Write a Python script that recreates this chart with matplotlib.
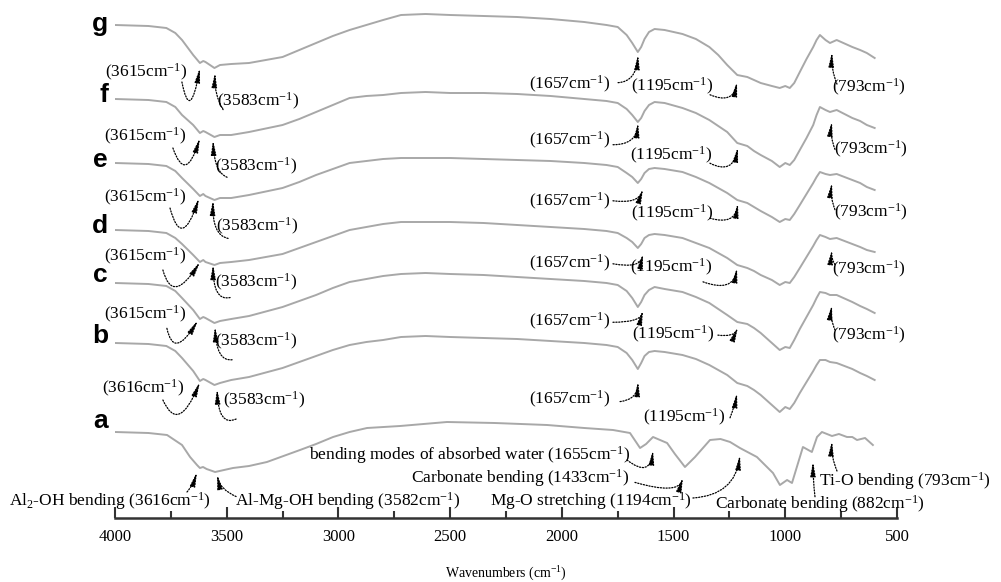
import numpy as np
import matplotlib.pyplot as plt
from matplotlib.ticker import MultipleLocator

plt.rcParams['font.family'] = 'Liberation Serif'
plt.rcParams['mathtext.fontset'] = 'custom'
plt.rcParams['mathtext.rm'] = 'Liberation Serif'
plt.rcParams['mathtext.it'] = 'Liberation Serif:italic'

# wavenumber grid (cm-1) shared by spectra b-g
wn = [4000, 3850, 3770, 3730, 3700, 3650, 3620, 3605, 3595, 3555,
      3530, 3480, 3400, 3250, 3175, 3100, 3025, 2950, 2875, 2800,
      2720, 2610, 2500, 2350, 2200, 2050, 1900, 1800, 1750, 1710,
      1685, 1660, 1645, 1630, 1610, 1585, 1540, 1460, 1400, 1340,
      1300, 1260, 1215, 1170, 1140, 1110, 1060, 1025, 1000, 980,
      960, 935, 905, 875, 860, 845, 820, 800, 770, 700,
      665, 635, 600]

# transmittance (a.u.) relative to the 4000 cm-1 value
g_vals = [0, -1, -3, -8, -15, -30, -38, -36, -37, -43,
          -40, -39, -38, -32, -25, -18, -11, -5, 0, 5,
          10, 11, 10, 9, 8, 6, 3, 0, -2, -10,
          -18, -27, -22, -14, -7, -4, -5, -9, -14, -22,
          -30, -40, -50, -52, -55, -58, -61, -63, -61, -63,
          -58, -47, -34, -22, -15, -10, -15, -18, -15, -22,
          -25, -28, -33]
f_vals = [0, -1, -3, -8, -16, -26, -34, -32, -33, -38,
          -36, -36, -33, -26, -20, -13, -6, 1, 3, 4,
          6, 7, 6, 6, 5, 3, 0, -2, -4, -10,
          -16, -23, -19, -12, -6, -3, -4, -9, -14, -21,
          -27, -33, -44, -47, -52, -56, -62, -68, -64, -66,
          -61, -51, -39, -26, -16, -8, -11, -13, -11, -19,
          -22, -26, -29]
e_vals = [0, -1, -3, -8, -15, -26, -33, -31, -33, -37,
          -35, -35, -32, -25, -19, -12, -6, 0, 2, 4,
          5, 5, 5, 4, 3, 2, 0, -2, -4, -10,
          -14, -20, -16, -10, -6, -5, -6, -9, -14, -20,
          -25, -30, -37, -40, -44, -48, -54, -59, -56, -57,
          -51, -42, -31, -20, -14, -9, -11, -12, -11, -17,
          -20, -24, -27]
d_vals = [0, -1, -3, -8, -14, -25, -32, -30, -32, -35,
          -33, -32, -30, -24, -18, -12, -6, 0, 3, 6,
          8, 8, 8, 7, 5, 3, 1, -1, -3, -8,
          -12, -18, -14, -8, -5, -4, -5, -8, -13, -18,
          -23, -28, -35, -38, -41, -45, -50, -55, -52, -53,
          -47, -38, -27, -16, -10, -5, -7, -9, -8, -14,
          -17, -20, -22]
c_vals = [0, -1, -3, -8, -15, -27, -36, -34, -35, -40,
          -38, -36, -33, -24, -18, -12, -5, 1, 4, 7,
          9, 10, 9, 8, 6, 4, 2, 0, -2, -8,
          -15, -24, -19, -12, -7, -4, -6, -9, -14, -20,
          -26, -32, -39, -41, -45, -50, -60, -67, -64, -65,
          -57, -46, -34, -22, -15, -9, -10, -12, -12, -19,
          -23, -26, -30]
b_vals = [0, -1, -3, -8, -15, -28, -38, -36, -37, -42,
          -40, -37, -34, -25, -19, -13, -7, -2, 1, 3,
          6, 7, 6, 5, 4, 2, 0, -2, -4, -10,
          -17, -26, -20, -13, -9, -8, -9, -12, -16, -22,
          -27, -32, -40, -43, -47, -52, -62, -69, -64, -66,
          -60, -50, -39, -28, -22, -17, -17, -19, -20, -26,
          -30, -33, -37]

# spectrum a has its own grid
wn_a = [4000, 3850, 3767, 3700, 3664, 3633, 3620, 3606, 3590, 3552,
        3472, 3400, 3320, 3172, 3100, 3024, 2950, 2872, 2724, 2514,
        2300, 2066, 1900, 1771, 1695, 1668, 1650, 1623, 1592, 1529,
        1494, 1449, 1404, 1337, 1290, 1247, 1203, 1127, 1055, 1024,
        992, 970, 921, 881, 858, 836, 791, 760, 724, 700,
        679, 643, 608]
a_vals = [0, -1, -3, -13, -25, -33, -36, -35, -37, -40,
          -36, -34, -30, -18, -12, -5, 0, 4, 6, 10,
          9, 7, 4, 2, -1, -10, -16, -12, -5, -11,
          -22, -35, -25, -8, -7, -10, -16, -25, -41, -53,
          -48, -51, -15, -20, -5, 0, -4, -2, -5, -5,
          -8, -6, -13]

letters = ['g', 'f', 'e', 'd', 'c', 'b', 'a']
offsets = [493, 419, 355, 288, 235, 175, 86]
letter_shift = [6, 3, 4, 3, -1, 0, -4]

# peak marks: (wavenumber of arrow tip, gap below curve, label, text offset, tail offset, angles)
marks_g = [
    (3620, 5, '(3615cm$^{-1}$)', (-54, 4), (-18, 14), (-79, -100)),
    (3552, 5, '(3583cm$^{-1}$)', (43, 29), (8, 37), (121, -93)),
    (1659, 3, '(1657cm$^{-1}$)', (-68, 30), (-20, 28), (3, -94)),
    (1216, 7, '(1195cm$^{-1}$)', (-65, 5), (-27, 13), (-23, -100)),
    (791, 10, '(793cm$^{-1}$)', (37, 35), (5, 32), (112, -93)),
]
marks_f = [
    (3620, 5, '(3615cm$^{-1}$)', (-55, -2), (-27, 10), (-71, -107)),
    (3561, 4, '(3583cm$^{-1}$)', (43, 26), (14, 37), (159, -88)),
    (1659, 1, '(1657cm$^{-1}$)', (-68, 18), (-25, 22), (0, -95)),
    (1212, 4, '(1195cm$^{-1}$)', (-67, 8), (-28, 16), (-27, -100)),
    (791, 10, '(793cm$^{-1}$)', (39, 28), (3, 28), (111, -98)),
]
marks_e = [
    (3624, 3, '(3615cm$^{-1}$)', (-54, -1), (-29, 10), (-75, -108)),
    (3561, 1, '(3583cm$^{-1}$)', (44, 26), (15, 38), (169, -92)),
    (1637, 13, '(1657cm$^{-1}$)', (-73, 13), (-30, 12), (-7, -108)),
    (1212, 3, '(1195cm$^{-1}$)', (-66, 10), (-28, 15), (-16, -98)),
    (791, 8, '(793cm$^{-1}$)', (39, 30), (3, 27), (111, -98)),
]
marks_d = [
    (3620, 0, '(3615cm$^{-1}$)', (-55, -6), (-37, 8), (-75, -122)),
    (3561, 0, '(3583cm$^{-1}$)', (43, 18), (17, 33), (-167, -90)),
    (1637, 13, '(1657cm$^{-1}$)', (-73, 10), (-30, 10), (-10, -101)),
    (1216, 3, '(1195cm$^{-1}$)', (-66, 0), (-34, 14), (-20, -99)),
    (791, 11, '(793cm$^{-1}$)', (37, 20), (3, 15), (120, -97)),
]
marks_c = [
    (3629, 4, '(3615cm$^{-1}$)', (-53, -6), (-31, 8), (-78, -121)),
    (3552, 4, '(3583cm$^{-1}$)', (41, 15), (17, 33), (-173, -88)),
    (1637, 12, '(1657cm$^{-1}$)', (-73, 11), (-30, 12), (0, -104)),
    (1212, 5, '(1195cm$^{-1}$)', (-65, 7), (-20, 8), (-7, -112)),
    (791, 10, '(793cm$^{-1}$)', (37, 30), (3, 25), (113, -99)),
]
marks_b = [
    (3620, 1, '(3616cm$^{-1}$)', (-57, 6), (-37, 18), (-66, -112)),
    (3543, 5, '(3583cm$^{-1}$)', (47, 11), (19, 30), (-156, -88)),
    (1659, 13, '(1657cm$^{-1}$)', (-68, 18), (-18, 20), (7, -93)),
    (1216, 10, '(1195cm$^{-1}$)', (-53, 25), (-7, 25), (69, -99)),
]
marks_a = [
    (3633, 7, 'Al$_2$-OH bending (3616cm$^{-1}$)', (-87, 29), (-10, 20), (49, -107)),
    (3543, 3, 'Al-Mg-OH bending (3582cm$^{-1}$)', (130, 26), (19, 22), (156, -79)),
    (1592, 13, 'bending modes of absorbed water (1655cm$^{-1}$)', (-183, 5), (-26, 10), (-38, -96)),
    (1458, 13, 'Carbonate bending (1433cm$^{-1}$)', (-163, 1), (-48, 5), (-16, -106)),
    (1203, 7, 'Mg-O stretching (1194cm$^{-1}$)', (-149, 46), (-47, 43), (4, -97)),
    (876, 13, 'Carbonate bending (882cm$^{-1}$)', (7, 42), (2, 35), (97, -90)),
    (791, 5, 'Ti-O bending (793cm$^{-1}$)', (73, 40), (5, 30), (112, -94)),
]

spectra = [(wn, g_vals, marks_g), (wn, f_vals, marks_f), (wn, e_vals, marks_e),
           (wn, d_vals, marks_d), (wn, c_vals, marks_c), (wn, b_vals, marks_b),
           (wn_a, a_vals, marks_a)]

DPI = 100
PX = 72 / DPI  # pixel offsets -> points

fig = plt.figure(figsize=(10.01, 5.82), dpi=DPI)
ax = fig.add_axes([115 / 1001, 64 / 582, 782 / 1001, 518 / 582])

for letter, off, shift, (x, vals, marks) in zip(letters, offsets, letter_shift, spectra):
    x = np.array(x, dtype=float)
    y = np.array(vals, dtype=float) + off
    ax.plot(x, y, color='#a8a8a8', lw=1.4, solid_joinstyle='round', zorder=2)
    ax.annotate(letter, xy=(4000, off), xytext=(-5, -shift * PX), textcoords='offset points',
                ha='right', va='baseline', fontsize=19, fontweight='bold',
                family='Liberation Sans', annotation_clip=False)
    for w, gap, label, txt, tail, ang in marks:
        tip = (w, np.interp(w, x[::-1], y[::-1]) - gap)
        ax.annotate(label, xy=tip, xytext=(txt[0] * PX, -txt[1] * PX), textcoords='offset points',
                    ha='center', va='center', fontsize=12.5, zorder=3)
        ax.annotate('', xy=tip, xytext=(tail[0] * PX, -tail[1] * PX), textcoords='offset points',
                    arrowprops=dict(arrowstyle='-|>,head_length=0.7,head_width=0.13',
                                    connectionstyle='angle3,angleA=%d,angleB=%d' % ang,
                                    linestyle=(0, (1, 1.3)), lw=0.9, color='black',
                                    shrinkA=0, shrinkB=0, mutation_scale=12), zorder=3)

ax.set_xlim(4000, 500)
ax.set_ylim(0, 518)
for s in ['left', 'right', 'top']:
    ax.spines[s].set_visible(False)
ax.spines['bottom'].set_color('#333333')
ax.spines['bottom'].set_linewidth(1.8)
ax.set_yticks([])
ax.xaxis.set_major_locator(MultipleLocator(500))
ax.xaxis.set_minor_locator(MultipleLocator(250))
ax.tick_params(axis='x', which='major', direction='in', length=8, width=1.5,
               color='#333333', labelsize=12, pad=8)
ax.tick_params(axis='x', which='minor', direction='in', length=5, width=1.5, color='#333333')
ax.set_xlabel('Wavenumbers (cm$^{-1}$)', fontsize=10, labelpad=14)

fig.savefig('out.png', dpi=DPI)
